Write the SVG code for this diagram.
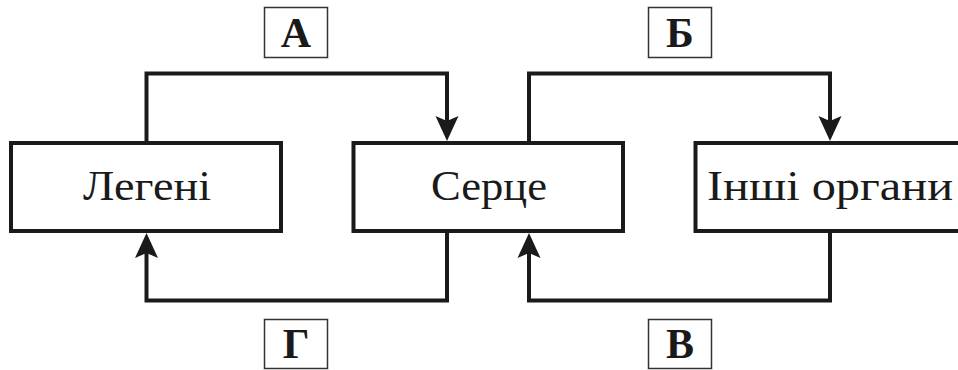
<svg xmlns="http://www.w3.org/2000/svg" width="958" height="370" viewBox="0 0 958 370">
<style>
  .box { fill: #fff; stroke: #1a1a1a; stroke-width: 4; }
  .lbl { fill: #fff; stroke: #333; stroke-width: 1.5; }
  .name { font-family: 'Liberation Serif', serif; font-size: 42px; fill: #1a1a1a; text-anchor: middle; }
  .tag { font-family: 'Liberation Serif', serif; font-size: 42px; font-weight: bold; fill: #1a1a1a; text-anchor: middle; }
  .wire { fill: none; stroke: #1a1a1a; stroke-width: 4; stroke-linejoin: miter; stroke-linecap: square; }
  .head { fill: #1a1a1a; }
</style>
<rect width="958" height="370" fill="#fff"/>
<g id="connectors">
  <path class="wire" d="M146.5,141 V73.5 H447 V120"/>
  <path class="head" d="M435.5,116 L447,141 L458.5,116 L447,121 Z"/>
  <path class="wire" d="M447,233 V300.5 H146.5 V255"/>
  <path class="head" d="M135,258 L146.5,233 L158,258 L146.5,253 Z"/>
  <path class="wire" d="M529,141 V73.5 H830 V120"/>
  <path class="head" d="M818.5,116 L830,141 L841.5,116 L830,121 Z"/>
  <path class="wire" d="M830,233 V300.5 H529 V255"/>
  <path class="head" d="M517.5,258 L529,233 L540.5,258 L529,253 Z"/>
</g>
<g id="lungs">
  <rect class="box" x="11" y="143" width="270" height="88"/>
  <text class="name" x="147" y="200" textLength="128" lengthAdjust="spacingAndGlyphs">Легені</text>
</g>
<g id="heart">
  <rect class="box" x="353.5" y="143" width="269.5" height="88"/>
  <text class="name" x="489" y="200" textLength="116" lengthAdjust="spacingAndGlyphs">Серце</text>
</g>
<g id="organs">
  <rect class="box" x="695.5" y="143" width="290" height="88"/>
  <text class="name" x="830" y="200" textLength="246" lengthAdjust="spacingAndGlyphs">Інші органи</text>
</g>
<g id="label-a">
  <rect class="lbl" x="264.5" y="7.5" width="63" height="50"/>
  <text class="tag" x="296" y="47">А</text>
</g>
<g id="label-b">
  <rect class="lbl" x="648.5" y="7.5" width="63" height="50"/>
  <text class="tag" x="680" y="47">Б</text>
</g>
<g id="label-v">
  <rect class="lbl" x="648.5" y="319.5" width="63" height="49"/>
  <text class="tag" x="680" y="358">В</text>
</g>
<g id="label-g">
  <rect class="lbl" x="264.5" y="319.5" width="63" height="49"/>
  <text class="tag" x="296" y="358">Г</text>
</g>
</svg>
